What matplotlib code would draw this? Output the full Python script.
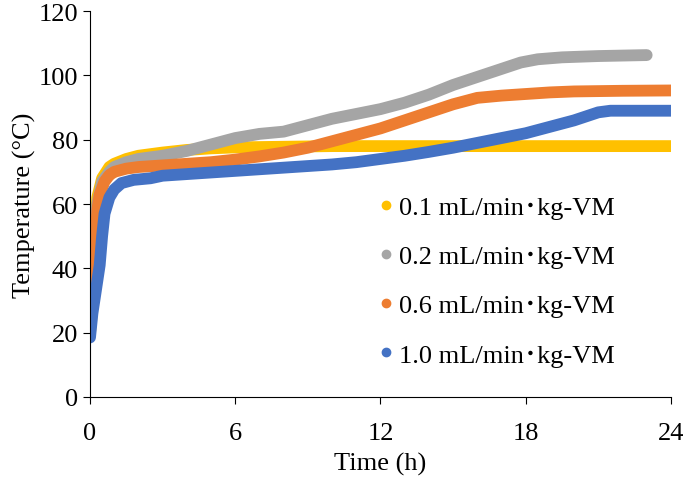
import matplotlib
matplotlib.use('Agg')
import matplotlib.pyplot as plt

plt.rcParams['font.family'] = ['Liberation Serif', 'Noto Sans CJK JP', 'DejaVu Sans']

# Temperature profiles (hours, deg C)
t_01 = [0, 0.1, 0.2, 0.3, 0.5, 0.8, 1.0, 1.5, 2, 3, 4, 5, 6, 8, 10, 12, 14, 16, 18, 20, 22, 24]
temp_01 = [20, 28, 48, 62, 68, 71.5, 72.5, 74, 75, 76, 76.8, 77.3, 77.6, 77.8, 78, 78, 78, 78, 78, 78, 78, 78]

t_02 = [0, 0.1, 0.2, 0.3, 0.5, 0.8, 1.0, 1.5, 2, 3, 4, 5, 6, 7, 8, 9, 10, 11, 12, 13, 14, 15, 16, 17,
        17.8, 18.5, 19.5, 21, 23]
temp_02 = [27, 35, 50, 60, 67, 70, 71.5, 73, 74, 75, 76.5, 78.5, 80.5, 81.8, 82.5, 84.5, 86.5, 88, 89.5,
           91.5, 94, 97, 99.5, 102, 104, 105, 105.6, 106, 106.3]

t_06 = [0, 0.1, 0.2, 0.3, 0.4, 0.6, 0.8, 1.0, 1.5, 2, 3, 4, 5, 6, 7, 8, 9, 10, 11, 12, 13, 14, 15, 16,
        17, 18, 19, 20, 22, 24]
temp_06 = [22, 30, 45, 58, 63, 67, 69, 70, 71, 71.5, 72, 72.5, 73, 73.8, 74.8, 76, 77.5, 79.5, 81.5,
           83.5, 86, 88.5, 91, 93, 93.7, 94.2, 94.7, 95, 95.2, 95.3]

t_10 = [0, 0.1, 0.2, 0.3, 0.4, 0.5, 0.6, 0.8, 1.0, 1.3, 1.8, 2.5, 3, 4, 5, 6, 7, 8, 9, 10, 11, 12, 13,
        14, 15, 16, 17, 18, 19, 20, 21, 21.5, 22, 23, 24]
temp_10 = [18.5, 26, 31, 36, 41, 50, 57, 62, 64.5, 66.5, 67.5, 68, 68.8, 69.3, 69.8, 70.3, 70.8, 71.3,
           71.8, 72.3, 73, 74, 75, 76.2, 77.5, 79, 80.5, 82, 84, 86, 88.5, 89, 89, 89, 89]

labels = ['0.1 mL/min\uff65kg-VM', '0.2 mL/min\uff65kg-VM', '0.6 mL/min\uff65kg-VM', '1.0 mL/min\uff65kg-VM']
colors = ['#FFC000', '#A5A5A5', '#ED7D31', '#4472C4']

fig = plt.figure(figsize=(6.85, 4.81), dpi=100)
ax = fig.add_axes([0.1314, 0.1726, 0.848, 0.8024])

series = [(t_01, temp_01), (t_02, temp_02), (t_06, temp_06), (t_10, temp_10)]
for (t, y), c, lab in zip(series, colors, labels):
    ax.plot(t, y, color=c, lw=8.5, solid_capstyle='round', solid_joinstyle='round')
    ax.plot([], [], 'o', color=c, ms=6, label=lab)

ax.set_xlim(0, 24)
ax.set_ylim(0, 120)
ax.set_xticks([0, 6, 12, 18, 24])
ax.set_yticks(range(0, 121, 20))
for s in ['top', 'right']:
    ax.spines[s].set_visible(False)
ax.tick_params(direction='out', length=5, labelsize=19)
ax.tick_params(axis='x', pad=13)
ax.set_xlabel('Time (h)', fontsize=19, labelpad=6)
ax.set_ylabel('Temperature (°C)', fontsize=19, labelpad=2)

ax.legend(loc='center left', bbox_to_anchor=(0.46, 0.30), frameon=False, fontsize=19,
          handlelength=0.4, handletextpad=0.3, labelspacing=0.97)

fig.savefig('out.png', dpi=100)
